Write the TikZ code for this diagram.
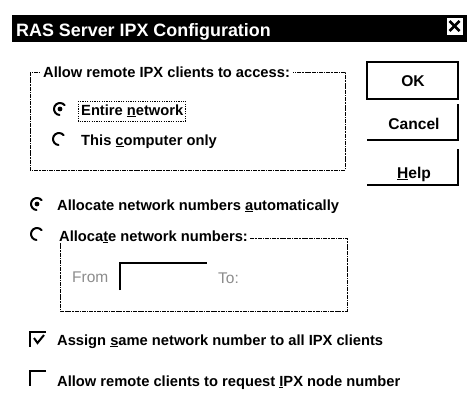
\documentclass[tikz,border=0pt]{standalone}
\usepackage{fontspec}
\setmainfont{Liberation Sans}
\newfontfamily\ui{Liberation Sans Bold}
\begin{document}
\begin{tikzpicture}[x=1pt,y=-1pt,
  txt/.style={anchor=base west, inner sep=0pt, font=\ui\fontsize{14.7}{17}\selectfont},
  gtxt/.style={txt, text=black!45, font=\fontsize{15.5}{17}\selectfont},
  btxt/.style={anchor=base, inner sep=0pt, font=\ui\fontsize{15.6}{17}\selectfont},
  grp/.style={draw=black, line width=0.8pt, dash pattern=on 4pt off 1pt on 1.5pt off 0.8pt},
  shadow/.style={draw=black, line width=2.3pt},
  radio/.style={line width=2pt, line cap=round},
  dot/.style={fill=black}]
\useasboundingbox (0,0) rectangle (469,410);
\fill[white] (0,0) rectangle (469,410);
% title bar
\fill[black] (12,15) rectangle (467,42);
\node[anchor=base west, inner sep=0pt, text=white, font=\bfseries\fontsize{17.9}{20}\selectfont] (title) at (16,36) {RAS Server IPX Configuration};
\node[draw=black, fill=white, line width=0.8pt, minimum width=17pt, minimum height=18pt, inner sep=0pt] (close) at (454.5,26) {};
\draw[line width=2.6pt] (close.center) ++(-5,-5) -- ++(10,10);
\draw[line width=2.6pt] (close.center) ++(-5,5) -- ++(10,-10);
% first group
\draw[grp] (30,72) rectangle (345,170);
\node[txt, fill=white, inner xsep=3pt] (g1) at (40,77) {Allow remote IPX clients to access:};
\coordinate (r1) at (60,109);
\draw[radio] (r1) ++(-40:6) arc[start angle=-40, end angle=-265, radius=6];
\fill[dot] (r1) circle (2.4);
\node[txt] (t1) at (81,115) {Entire \underline{n}etwork};
\draw[line width=0.8pt, dash pattern=on 1.2pt off 1.2pt] ([xshift=-3pt,yshift=3pt]t1.north west) rectangle ([xshift=2pt,yshift=-4pt]t1.south east);
\coordinate (r2) at (59,139);
\draw[radio] (r2) ++(-40:6) arc[start angle=-40, end angle=-265, radius=6];
\node[txt] (t2) at (81,145) {This \underline{c}omputer only};
% buttons
\draw[line width=2.6pt] (367,62) rectangle (458,99);
\node[btxt] (ok) at (413,86) {OK};
\draw[shadow] (367,140) -- (458,140) -- (458,104);
\node[btxt] (cancel) at (414,129) {Cancel};
\draw[shadow] (367,185) -- (458,185) -- (458,149);
\node[btxt] (help) at (414,178) {\underline{H}elp};
% allocate options
\coordinate (r3) at (37,204);
\draw[radio] (r3) ++(-40:6) arc[start angle=-40, end angle=-265, radius=6];
\fill[dot] (r3) circle (2.4);
\node[txt] (t3) at (57,210) {Allocate network numbers \underline{a}utomatically};
\draw[grp] (60,238) rectangle (347,311);
\coordinate (r4) at (37,234);
\draw[radio] (r4) ++(-40:6) arc[start angle=-40, end angle=-265, radius=6];
\node[txt, fill=white, inner xsep=2pt] (t4) at (57,241) {Alloca\underline{t}e network numbers:};
\node[gtxt] (from) at (72,282) {From};
\draw[shadow] (120,290) -- (120,263) -- (207,263);
\node[gtxt] (to) at (218,283) {To:};
% checkboxes
\draw[shadow] (46,332) -- (30,332) -- (30,347);
\draw[line width=2pt] (34,338) -- (37.5,343) -- (44,335);
\node[txt] (t5) at (57,345) {Assign \underline{s}ame network number to all IPX clients};
\draw[shadow] (46,371) -- (30,371) -- (30,386);
\node[txt] (t6) at (57,386) {Allow remote clients to request \underline{I}PX node number};
\end{tikzpicture}
\end{document}
